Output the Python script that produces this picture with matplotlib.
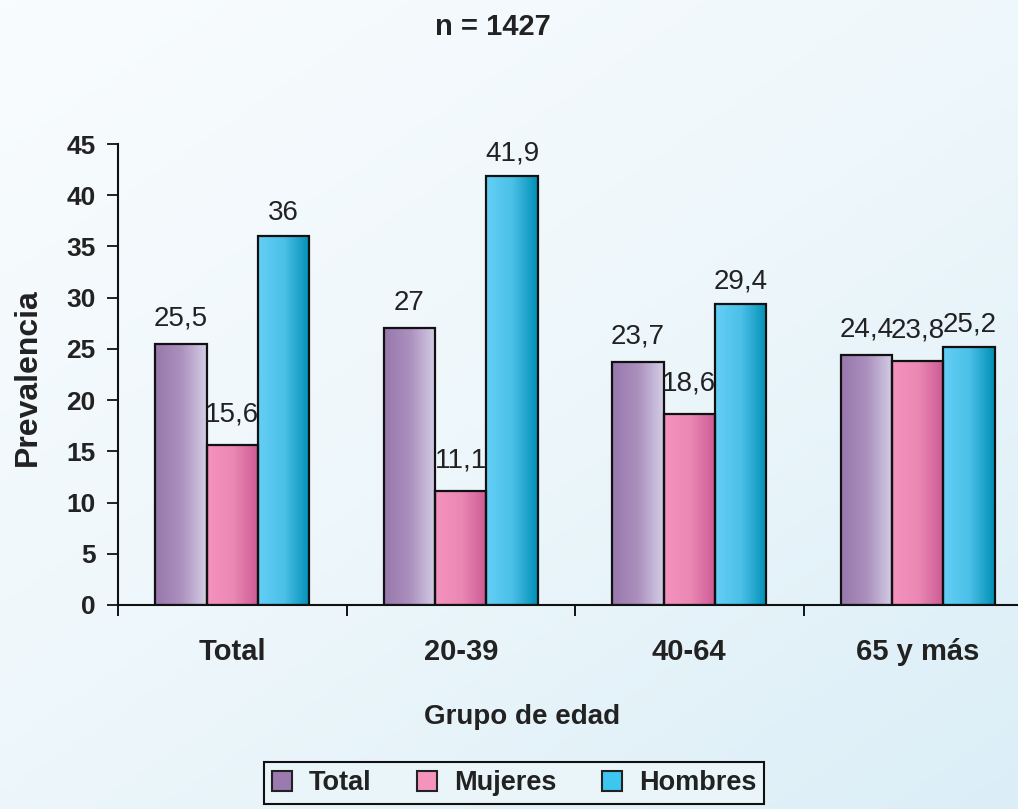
import matplotlib
matplotlib.use('Agg')
import matplotlib.pyplot as plt
import numpy as np
from matplotlib.colors import LinearSegmentedColormap
from matplotlib.patches import Patch

plt.rcParams['font.family'] = ['Liberation Sans', 'DejaVu Sans']

# ─── Data ─────────────────────────────────────────────────────────────────────
categories = ['Total', '20-39', '40-64', '65 y más']
series = ['Total', 'Mujeres', 'Hombres']
total = [25.5, 27, 23.7, 24.4]
mujeres = [15.6, 11.1, 18.6, 23.8]
hombres = [36, 41.9, 29.4, 25.2]
values = [total, mujeres, hombres]

# ─── Styles ───────────────────────────────────────────────────────────────────
GRAD = [
    ['#9877ad', '#ab90bd', '#d4cee6'],   # Total
    ['#f593be', '#eb89b4', '#cc5a94'],   # Mujeres
    ['#64cff6', '#4cc0e8', '#0090b6'],   # Hombres
]
SOLID = ['#9a7aaf', '#f494bd', '#3dc6f0']
LABEL_PAD = [9, 13, 7]   # points above bar top
BAR_W = 0.225

W, H = 1018, 809
fig = plt.figure(figsize=(W / 100, H / 100), dpi=100)

# background gradient
bg = fig.add_axes([0, 0, 1, 1], zorder=-5)
yy, xx = np.mgrid[0:1:200j, 0:1:200j]
t = (xx * 0.6 + yy * 0.7) / 1.3
bg_cmap = LinearSegmentedColormap.from_list('bg', ['#f9fcfe', '#eef7fb', '#dbeef7'])
bg.imshow(t, cmap=bg_cmap, extent=[0, 1, 0, 1], aspect='auto', origin='upper')
bg.axis('off')

ax = fig.add_axes([118 / W, (H - 605) / H, 914 / W, (605 - 144) / H])
ax.patch.set_alpha(0)

x = np.arange(len(categories))
grad = np.linspace(0, 1, 256).reshape(1, -1)
for i, vals in enumerate(values):
    cmap = LinearSegmentedColormap.from_list(f'g{i}', GRAD[i])
    pos = x + (i - 1) * BAR_W
    bars = ax.bar(pos, vals, BAR_W, facecolor='none', edgecolor='#111111',
                  linewidth=1.6, zorder=3)
    for b, v in zip(bars, vals):
        x0 = b.get_x()
        im = ax.imshow(grad, cmap=cmap, aspect='auto', zorder=2,
                       extent=[x0, x0 + b.get_width(), 0, v])
        im.set_clip_path(b)
        ax.annotate(f'{v:g}'.replace('.', ','), (x0 + b.get_width() / 2, v),
                    xytext=(0, LABEL_PAD[i]), textcoords='offset points',
                    ha='center', va='bottom', fontsize=20, color='#222222')
ax.set_xlim(-0.5, 3.5)
ax.set_ylim(0, 45)

# axes styling
for s in ('top', 'right'):
    ax.spines[s].set_visible(False)
for s in ('left', 'bottom'):
    ax.spines[s].set_linewidth(1.5)
    ax.spines[s].set_color('#111111')

ax.set_yticks(np.arange(0, 46, 5))
ax.tick_params(axis='y', direction='out', length=8, width=1.3, pad=8,
               labelsize=19, colors='#111111')
for lab in ax.get_yticklabels():
    lab.set_fontweight('bold')
    lab.set_color('#222222')

ax.set_xticks(np.arange(-0.5, 3.6, 1))
ax.set_xticklabels([])
ax.tick_params(axis='x', which='major', direction='out', length=8, width=1.3)
ax.set_xticks(x, minor=True)
ax.set_xticklabels(categories, minor=True, fontsize=21, fontweight='bold',
                   color='#222222')
ax.tick_params(axis='x', which='minor', length=0, pad=24)

# titles
fig.text(493 / W, 1 - 27 / H, 'n = 1427', ha='center', va='center',
         fontsize=21, fontweight='bold', color='#222222')
fig.text(28 / W, 1 - 377 / H, 'Prevalencia', ha='center', va='center',
         rotation=90, fontsize=23, fontweight='bold', color='#222222')
fig.text(522 / W, 1 - 717 / H, 'Grupo de edad', ha='center', va='center',
         fontsize=20, fontweight='bold', color='#222222')

# legend
handles = [Patch(facecolor=c, edgecolor='#222222', linewidth=1.5) for c in SOLID]
leg = fig.legend(handles, series, loc='upper center', ncol=3,
                 bbox_to_anchor=(514 / W, 1 - 762 / H), frameon=True,
                 fancybox=False, edgecolor='#111111', framealpha=1,
                 facecolor='#eaf5fa', borderpad=0.3, borderaxespad=0,
                 handlelength=0.75, handleheight=0.75, handletextpad=0.6,
                 columnspacing=1.7,
                 prop={'size': 19.5, 'weight': 'bold'})
leg.get_frame().set_linewidth(1.5)
for txt in leg.get_texts():
    txt.set_color('#222222')

fig.savefig('out.png', dpi=100)
